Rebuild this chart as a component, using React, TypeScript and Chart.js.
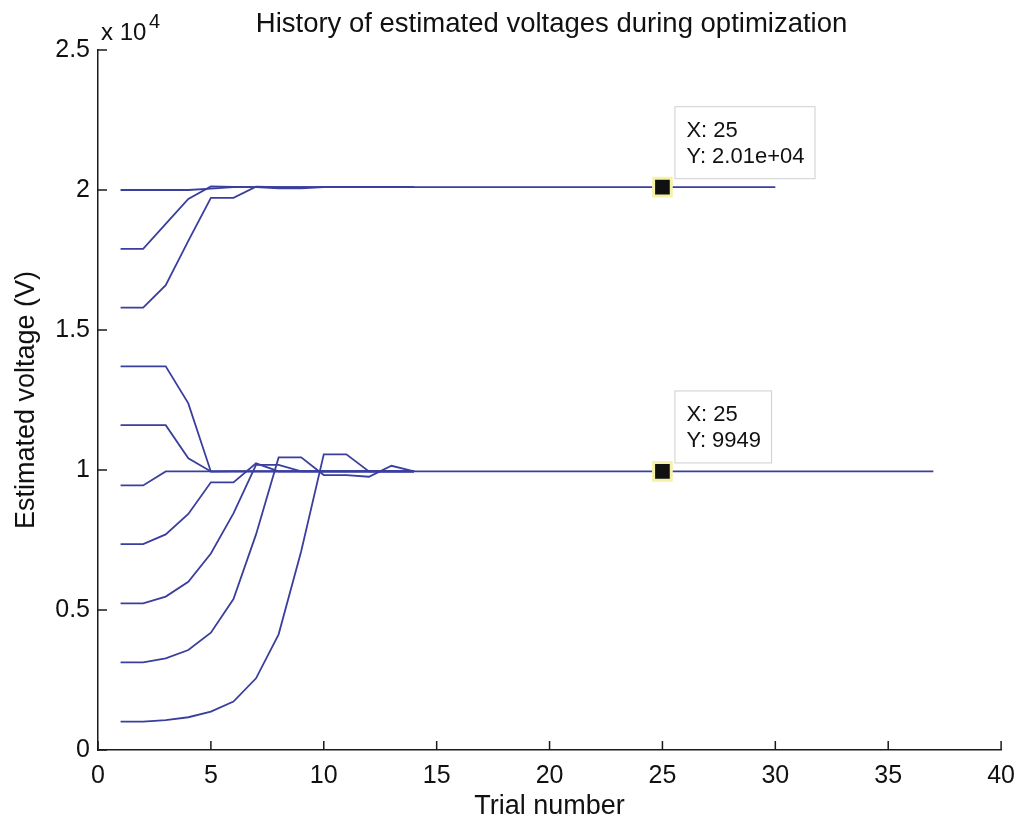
import React, { useEffect, useRef } from 'react';
import { Chart, registerables } from 'chart.js';

Chart.register(...registerables);

const FONT = '"Liberation Sans", Arial, Helvetica, sans-serif';
const LINE_COLOR = 'rgb(58, 62, 158)';

const chartTitle = 'History of estimated voltages during optimization';
const xAxisTitle = 'Trial number';
const yAxisTitle = 'Estimated voltage (V)';
const yExponentBase = 'x 10';
const yExponent = '4';

const xTickValues = [0, 5, 10, 15, 20, 25, 30, 35, 40];
const yTickValues = [0, 5000, 10000, 15000, 20000, 25000];
const yTickLabels = ['0', '0.5', '1', '1.5', '2', '2.5'];

// Upper group (converges to ~2.01e4). Index 0 = trial 1.
const upperA = [
  20000, 20000, 20000, 20000, 20050, 20100, 20100, 20100, 20100, 20100,
  20100, 20100, 20100, 20100, 20100, 20100, 20100, 20100, 20100, 20100,
  20100, 20100, 20100, 20100, 20100, 20100, 20100, 20100, 20100, 20100,
];
const upperB = [17900, 17900, 18790, 19680, 20130, 20110, 20100, 20060, 20060, 20100, 20100, 20100, 20100, 20100];
const upperC = [15800, 15800, 16600, 18180, 19720, 19720, 20120, 20100, 20100, 20100, 20100, 20100, 20100, 20100];

// Lower group (converges to ~9949).
const lowerF = [
  9450, 9450, 9949, 9949, 9949, 9949, 9949, 9949, 9949, 9949,
  9949, 9949, 9949, 9949, 9949, 9949, 9949, 9949, 9949, 9949,
  9949, 9949, 9949, 9949, 9949, 9949, 9949, 9949, 9949, 9949,
  9949, 9949, 9949, 9949, 9949, 9949, 9949,
];
const lowerD = [13700, 13700, 13700, 12380, 9940, 9949, 9949, 9949, 9949, 9949, 9949, 9949, 9949, 9949];
const lowerE = [11600, 11600, 11600, 10420, 9949, 9949, 9949, 9949, 9949, 9949, 9949, 9949, 9949, 9949];
const lowerG = [7350, 7350, 7700, 8430, 9560, 9560, 10240, 9949, 9949, 9949, 9949, 9949, 9949, 9949];
const lowerH = [5240, 5240, 5480, 6010, 7020, 8450, 10180, 10180, 9949, 9949, 9949, 9949, 9949, 9949];
const lowerI = [3130, 3130, 3270, 3570, 4190, 5390, 7700, 10450, 10450, 9820, 9820, 9760, 10150, 9949];
const lowerJ = [1010, 1010, 1070, 1170, 1370, 1730, 2560, 4130, 7100, 10560, 10560, 9949, 9949, 9949];

const allSeries = [upperA, upperB, upperC, lowerF, lowerD, lowerE, lowerG, lowerH, lowerI, lowerJ];

// Data tips
const tipX = [25, 25];
const tipY = [20100, 9949];
const tipLabelX = ['X: 25', 'X: 25'];
const tipLabelY = ['Y: 2.01e+04', 'Y: 9949'];

const toPoints = (vals: number[]) => vals.map((v, i) => ({ x: i + 1, y: v }));

const decorPlugin = {
  id: 'decor',
  afterDraw(chart: any) {
    const { ctx, chartArea, scales } = chart;
    const xs = scales.x;
    const ys = scales.y;
    ctx.save();
    // inward tick marks
    ctx.strokeStyle = '#1a1a1a';
    ctx.lineWidth = 1.5;
    ctx.beginPath();
    xTickValues.forEach((v) => {
      const px = xs.getPixelForValue(v);
      ctx.moveTo(px, chartArea.bottom);
      ctx.lineTo(px, chartArea.bottom - 9);
    });
    yTickValues.forEach((v) => {
      const py = ys.getPixelForValue(v);
      ctx.moveTo(chartArea.left, py);
      ctx.lineTo(chartArea.left + 9, py);
    });
    ctx.stroke();

    // title
    ctx.fillStyle = '#111';
    ctx.font = `27.5px ${FONT}`;
    ctx.textAlign = 'center';
    ctx.textBaseline = 'alphabetic';
    ctx.fillText(chartTitle, (chartArea.left + chartArea.right) / 2 + 2, 32);

    // exponent label
    ctx.textAlign = 'left';
    ctx.font = `24px ${FONT}`;
    ctx.fillText(yExponentBase, 101, 40);
    ctx.font = `20px ${FONT}`;
    ctx.fillText(yExponent, 149, 28);

    // data tip boxes
    for (let i = 0; i < tipX.length; i++) {
      const px = xs.getPixelForValue(tipX[i]);
      const py = ys.getPixelForValue(tipY[i]);
      ctx.font = `22px ${FONT}`;
      const w = Math.max(ctx.measureText(tipLabelX[i]).width, ctx.measureText(tipLabelY[i]).width) + 22;
      const h = 72;
      const left = px + 12;
      const top = py - 9 - h;
      ctx.fillStyle = '#ffffff';
      ctx.fillRect(left, top, w, h);
      ctx.strokeStyle = '#cfcfcf';
      ctx.lineWidth = 1;
      ctx.strokeRect(left + 0.5, top + 0.5, w, h);
      ctx.fillStyle = '#111';
      ctx.fillText(tipLabelX[i], left + 12, top + 31);
      ctx.fillText(tipLabelY[i], left + 12, top + 57);
    }
    ctx.restore();
  },
};

export default function App() {
  const canvasRef = useRef<HTMLCanvasElement | null>(null);

  useEffect(() => {
    if (!canvasRef.current) return;
    Chart.defaults.font.family = FONT;
    const datasets: any[] = [
      {
        label: 'tips',
        data: tipX.map((x, i) => ({ x, y: tipY[i] })),
        showLine: false,
        pointStyle: 'rect',
        pointRadius: 12.5,
        backgroundColor: '#111',
        borderColor: '#f6f1a8',
        borderWidth: 3,
        order: -1,
      },
      ...allSeries.map((s, i) => ({
        label: `s${i}`,
        data: toPoints(s),
        borderColor: LINE_COLOR,
        borderWidth: 1.8,
        pointRadius: 0,
        tension: 0,
        fill: false,
      })),
    ];
    const chart = new Chart(canvasRef.current, {
      type: 'line',
      data: { datasets },
      options: {
        responsive: false,
        animation: false,
        events: [],
        layout: { padding: { left: 0, top: 50, right: 23, bottom: 0 } },
        plugins: { legend: { display: false }, tooltip: { enabled: false }, title: { display: false } },
        scales: {
          x: {
            type: 'linear',
            min: 0,
            max: 40,
            afterFit: (s: any) => { s.height = 74; },
            afterBuildTicks: (s: any) => { s.ticks = xTickValues.map((v) => ({ value: v })); },
            grid: { display: false, drawTicks: false },
            border: { display: true, color: '#1a1a1a', width: 1.5 },
            ticks: { padding: 11, color: '#111', font: { size: 25 }, maxRotation: 0, autoSkip: false },
            title: { display: true, text: xAxisTitle, color: '#111', font: { size: 27 }, padding: { top: 0, bottom: 1 } },
          },
          y: {
            type: 'linear',
            min: 0,
            max: 25000,
            afterFit: (s: any) => { s.width = 98; },
            afterBuildTicks: (s: any) => { s.ticks = yTickValues.map((v) => ({ value: v })); },
            grid: { display: false, drawTicks: false },
            border: { display: true, color: '#1a1a1a', width: 1.5 },
            ticks: {
              padding: 8,
              color: '#111',
              font: { size: 25 },
              autoSkip: false,
              callback: (v: any) => {
                const idx = yTickValues.indexOf(Number(v));
                return idx >= 0 ? yTickLabels[idx] : '';
              },
            },
            title: { display: true, text: yAxisTitle, color: '#111', font: { size: 27 }, padding: { top: 10, bottom: 0 } },
          },
        },
      },
      plugins: [decorPlugin],
    });
    return () => chart.destroy();
  }, []);

  return (
    <div style={{ position: 'fixed', left: 0, top: 0, width: 1026, height: 824, background: '#fff' }}>
      <canvas ref={canvasRef} width={1026} height={824} style={{ width: 1026, height: 824 }} />
    </div>
  );
}
